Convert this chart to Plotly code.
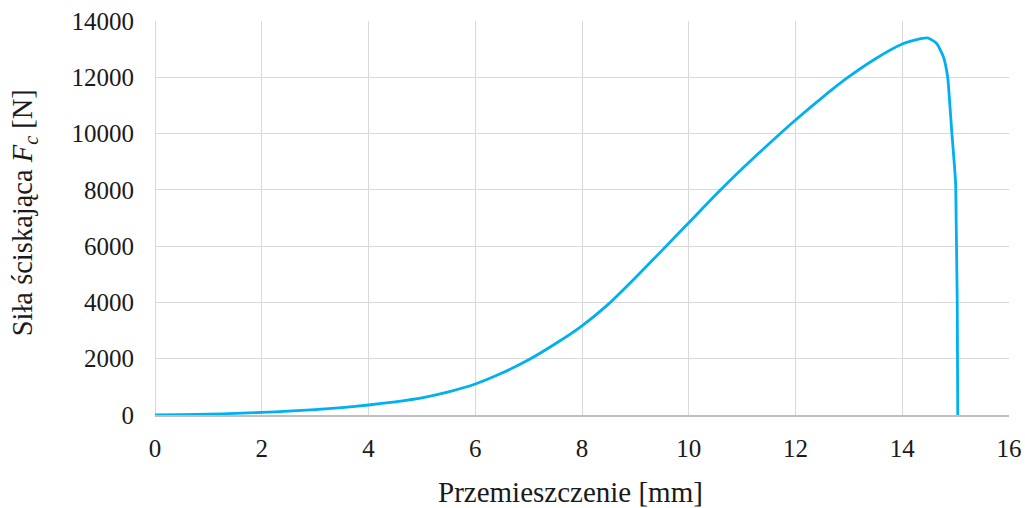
import plotly.graph_objects as go

# Compression test: displacement [mm] vs compressive force [N]
displacement_mm = [0, 0.5, 1, 1.5, 2, 2.5, 3, 3.5, 4, 4.5, 5, 5.5, 6, 6.5, 7, 7.5,
                   8, 8.5, 9, 9.5, 10, 10.5, 11, 11.5, 12, 12.5, 13, 13.5, 14,
                   14.25, 14.47, 14.64, 14.77, 14.85, 14.89, 14.93, 14.97, 15.0,
                   15.01, 15.03, 15.04]
force_n = [0, 12, 30, 58, 90, 135, 190, 265, 355, 470, 610, 820, 1100, 1490, 1960,
           2530, 3170, 3950, 4880, 5850, 6830, 7820, 8750, 9630, 10480, 11280,
           12020, 12660, 13180, 13330, 13400, 13210, 12730, 12020, 11080, 10010,
           9060, 8230, 6930, 3980, 0]

x_ticks = [0, 2, 4, 6, 8, 10, 12, 14, 16]
y_ticks = [0, 2000, 4000, 6000, 8000, 10000, 12000, 14000]

FONT = "Liberation Serif, Times New Roman, serif"
GRID = "#D9D9D9"
TEXT = "#1a1a1a"

fig = go.Figure()
fig.add_trace(go.Scatter(
    x=displacement_mm, y=force_n, mode="lines",
    line=dict(color="#00B0F0", width=2.8, shape="spline", smoothing=0.6),
    showlegend=False, hoverinfo="x+y",
))

fig.update_layout(
    width=1025, height=508,
    margin=dict(l=155, r=16, t=21, b=93, autoexpand=False),
    paper_bgcolor="white", plot_bgcolor="white",
    font=dict(family=FONT, size=25, color=TEXT),
    xaxis=dict(
        range=[0, 16], tickvals=x_ticks, ticktext=[str(v) for v in x_ticks],
        showgrid=True, gridcolor=GRID, gridwidth=1.3,
        zeroline=True, zerolinecolor=GRID, zerolinewidth=1.3,
        showline=True, linecolor="#BFBFBF", linewidth=1.5,
        ticks="", ticklabelstandoff=10, automargin=False,
        fixedrange=True,
    ),
    yaxis=dict(
        range=[0, 14000], tickvals=y_ticks, ticktext=[str(v) for v in y_ticks],
        showgrid=True, gridcolor=GRID, gridwidth=1.3,
        zeroline=False, showline=False,
        ticks="", ticklabelstandoff=20, automargin=False,
        fixedrange=True,
    ),
    annotations=[
        dict(text="Przemieszczenie [mm]", xref="paper", yref="paper",
             x=0.487, y=-0.195, xanchor="center", yanchor="middle",
             showarrow=False, font=dict(family=FONT, size=29, color=TEXT)),
        dict(text="Siła ściskająca <i>F</i><sub><i>c</i></sub> [N]",
             xref="paper", yref="paper", x=-0.1524, y=0.514,
             xanchor="center", yanchor="middle", textangle=-90,
             showarrow=False, font=dict(family=FONT, size=28.5, color=TEXT)),
    ],
)

fig.write_html("out.html")
